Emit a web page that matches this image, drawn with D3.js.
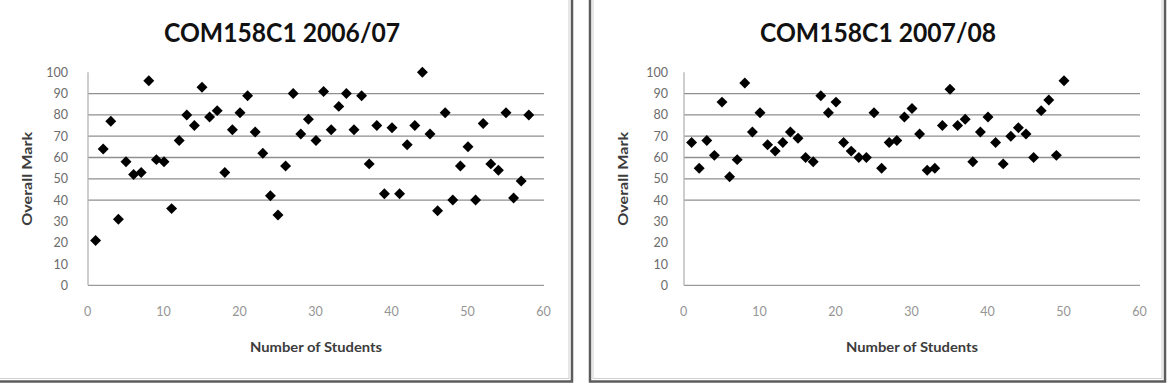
<!DOCTYPE html>
<meta charset="utf-8">
<style>
body { margin: 0; background: #fff; }
text { font-family: Lato, 'Open Sans', sans-serif; }
.title { font-size: 26px; font-weight: bold; fill: #111; }
.tick text { font-size: 12.5px; fill: #6c6c6c; }
.axisLabel { font-size: 13px; font-weight: bold; fill: #3c3c3c; }
.grid line { stroke: #8f8f8f; stroke-width: 1.3; }
.mark { fill: #000; }
</style>
<svg width="1172" height="389"></svg>
<script src="https://d3js.org/d3.v7.min.js"></script>
<script>

// marks per student, students numbered 1..n
var marks0607 = [21, 64, 77, 31, 58, 52, 53, 96, 59, 58,
                 36, 68, 80, 75, 93, 79, 82, 53, 73, 81,
                 89, 72, 62, 42, 33, 56, 90, 71, 78, 68,
                 91, 73, 84, 90, 73, 89, 57, 75, 43, 74,
                 43, 66, 75, 100, 71, 35, 81, 40, 56, 65,
                 40, 76, 57, 54, 81, 41, 49, 80];
var marks0708 = [67, 55, 68, 61, 86, 51, 59, 95, 72, 81,
                 66, 63, 67, 72, 69, 60, 58, 89, 81, 86,
                 67, 63, 60, 60, 81, 55, 67, 68, 79, 83,
                 71, 54, 55, 75, 92, 75, 78, 58, 72, 79,
                 67, 57, 70, 74, 71, 60, 82, 87, 61, 96];

var titles = ["COM158C1 2006/07", "COM158C1 2007/08"];
var xTicks = [0, 10, 20, 30, 40, 50, 60];
var yTicks = [0, 10, 20, 30, 40, 50, 60, 70, 80, 90, 100];
var gridValues = [40, 50, 60, 70, 80, 90];

var svg = d3.select("svg");

var panels = [
  {left: -10, right: 572, plotLeft: 88, labelGap: 20, titleX: 282, data: marks0607, title: titles[0]},
  {left: 590, right: 1165, plotLeft: 684, labelGap: 16, titleX: 878, data: marks0708, title: titles[1]}
];

panels.forEach(function(p) {
  var g = svg.append("g");
  var plotW = 456, top = 72.3, bottom = 285.3;

  // frame
  g.append("rect")
    .attr("x", p.left).attr("y", -10)
    .attr("width", p.right - p.left).attr("height", 381.5 + 10)
    .attr("fill", "none").attr("stroke", "#5c5c5c").attr("stroke-width", 2.5);
  g.append("rect")
    .attr("x", p.left + 3).attr("y", -10)
    .attr("width", p.right - p.left - 6).attr("height", 378.5 + 10)
    .attr("fill", "none").attr("stroke", "#cfcfcf").attr("stroke-width", 1);

  var x = d3.scaleLinear().domain([0, 60]).range([p.plotLeft, p.plotLeft + plotW]);
  var y = d3.scaleLinear().domain([0, 100]).range([bottom, top]);

  // gridlines
  g.append("g").attr("class", "grid")
    .selectAll("line").data(gridValues).enter().append("line")
    .attr("x1", x(0)).attr("x2", x(60))
    .attr("y1", function(d) { return y(d); }).attr("y2", function(d) { return y(d); });

  // axes lines
  g.append("line")
    .attr("x1", x(0)).attr("x2", x(60)).attr("y1", y(0)).attr("y2", y(0))
    .attr("stroke", "#9a9a9a").attr("stroke-width", 1.3);
  g.append("line")
    .attr("x1", x(0)).attr("x2", x(0)).attr("y1", y(0)).attr("y2", y(100))
    .attr("stroke", "#b4b4b4").attr("stroke-width", 1.3);

  // y tick labels
  var yAxis = g.append("g")
    .attr("transform", "translate(" + (x(0) - p.labelGap + 1) + ",0)")
    .call(d3.axisLeft(y).tickValues(yTicks).tickSize(0).tickPadding(1));
  yAxis.select(".domain").remove();

  // x tick labels
  var xAxis = g.append("g")
    .attr("transform", "translate(-1," + (y(0) + 22) + ")")
    .call(d3.axisBottom(x).tickValues(xTicks).tickSize(0).tickPadding(0));
  xAxis.select(".domain").remove();
  xAxis.selectAll("text").style("fill", "#959595");

  // title
  g.append("text")
    .attr("class", "title")
    .attr("x", p.titleX).attr("y", 41.5)
    .attr("text-anchor", "middle")
    .attr("textLength", 236).attr("lengthAdjust", "spacingAndGlyphs")
    .text(p.title);

  // axis titles
  g.append("text")
    .attr("class", "axisLabel")
    .attr("x", x(30)).attr("y", 352)
    .attr("text-anchor", "middle")
    .attr("textLength", 132).attr("lengthAdjust", "spacingAndGlyphs")
    .text("Number of Students");
  g.append("text")
    .attr("class", "axisLabel")
    .attr("transform", "translate(" + (x(0) - 56) + "," + y(50) + ") rotate(-90)")
    .attr("text-anchor", "middle")
    .attr("textLength", 94).attr("lengthAdjust", "spacingAndGlyphs")
    .text("Overall Mark");

  // points
  var diamond = d3.symbol().type(d3.symbolSquare).size(60);
  g.selectAll(".mark").data(p.data).enter().append("path")
    .attr("class", "mark")
    .attr("d", diamond)
    .attr("transform", function(d, i) {
      return "translate(" + x(i + 1) + "," + y(d) + ") rotate(45)";
    });
});

</script>
